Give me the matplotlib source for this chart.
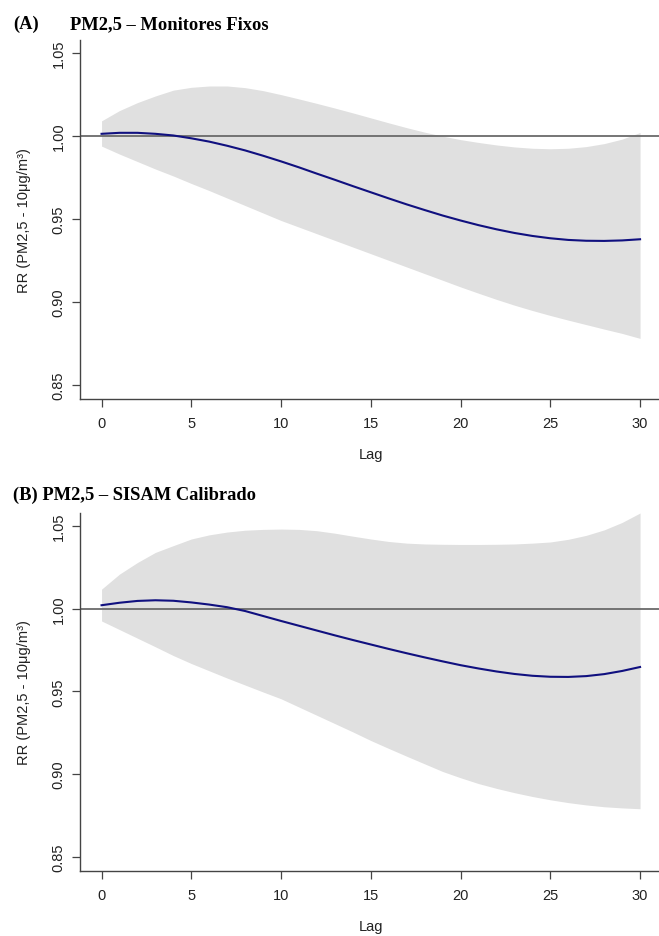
import matplotlib
matplotlib.use("Agg")
import matplotlib.pyplot as plt

lags = list(range(31))

# Panel A - PM2,5 monitores fixos
rr_a = [1.0012, 1.0018, 1.0018, 1.0012, 1.0002, 0.9985, 0.9965, 0.9940, 0.9912, 0.9880,
        0.9846, 0.9810, 0.9772, 0.9735, 0.9697, 0.9660, 0.9623, 0.9587, 0.9553, 0.9520,
        0.9490, 0.9462, 0.9437, 0.9415, 0.9397, 0.9383, 0.9373, 0.9368, 0.9367, 0.9370,
        0.9377]
hi_a = [1.009, 1.0152, 1.020, 1.024, 1.0275, 1.0292, 1.030, 1.030, 1.029, 1.0272,
        1.0248, 1.0222, 1.0195, 1.0167, 1.0138, 1.0108, 1.0078, 1.0049, 1.0022, 0.9998,
        0.9977, 0.996, 0.9945, 0.9933, 0.9925, 0.9922, 0.9925, 0.9935, 0.9953, 0.998,
        1.002]
lo_a = [0.9938, 0.989, 0.9845, 0.980, 0.9758, 0.9713, 0.967, 0.9625, 0.958, 0.9535,
        0.949, 0.945, 0.941, 0.937, 0.933, 0.929, 0.925, 0.921, 0.917, 0.913,
        0.909, 0.9052, 0.9015, 0.898, 0.8948, 0.8918, 0.889, 0.8863, 0.8836, 0.881,
        0.878]

# Panel B - PM2,5 SISAM calibrado
rr_b = [1.0020, 1.0035, 1.0046, 1.0050, 1.0047, 1.0037, 1.0024, 1.0008, 0.9985, 0.9955,
        0.9925, 0.9896, 0.9867, 0.9838, 0.9810, 0.9783, 0.9756, 0.9730, 0.9705, 0.9681,
        0.9658, 0.9638, 0.9620, 0.9605, 0.9594, 0.9588, 0.9587, 0.9592, 0.9604, 0.9623,
        0.9647]
hi_b = [1.0117, 1.0208, 1.0278, 1.0339, 1.038, 1.042, 1.0445, 1.0462, 1.0473, 1.0478,
        1.048, 1.0478, 1.0470, 1.0455, 1.0437, 1.042, 1.0405, 1.0395, 1.039, 1.0388,
        1.0387, 1.0387, 1.0388, 1.039, 1.0395, 1.0402, 1.0418, 1.0442, 1.0475, 1.0520,
        1.0577]
lo_b = [0.9925, 0.9873, 0.9821, 0.9769, 0.9716, 0.9668, 0.9624, 0.9580, 0.9538, 0.9496,
        0.9455, 0.9405, 0.9355, 0.9305, 0.9255, 0.9203, 0.9155, 0.9108, 0.9062, 0.9016,
        0.8978, 0.8943, 0.8914, 0.8888, 0.8865, 0.8845, 0.8828, 0.8814, 0.8803, 0.8796,
        0.8791]

xticks = [0, 5, 10, 15, 20, 25, 30]
yticks = [0.85, 0.90, 0.95, 1.00, 1.05]
ylab = "RR (PM2,5 - 10μg/m³)"

plt.rcParams['font.family'] = ['Liberation Sans', 'DejaVu Sans']

W, H = 659, 937
fig = plt.figure(figsize=(W / 100, H / 100), dpi=100)


def panel(top_px, bot_px, rr, hi, lo):
    ax = fig.add_axes([80 / W, 1 - bot_px / H, 581.6 / W, (bot_px - top_px) / H])
    ax.fill_between(lags, lo, hi, color='#e0e0e0', linewidth=0)
    ax.axhline(1.0, color='#6a6a6a', lw=1.3)
    ax.plot(lags, rr, color='#10107f', lw=1.5)
    ax.set_xlim(-1.2, 31.2)
    ax.set_ylim(0.8415, 1.0577)
    ax.set_xticks(xticks)
    ax.set_yticks(yticks)
    ax.set_yticklabels([f"{v:.2f}" for v in yticks], rotation=90, va='center')
    for s in ['top', 'right']:
        ax.spines[s].set_visible(False)
    for s in ['left', 'bottom']:
        ax.spines[s].set_color('#444444')
        ax.spines[s].set_linewidth(1.0)
    ax.tick_params(axis='both', direction='out', length=5.5, width=0.9,
                   color='#444444', labelcolor='#222222', labelsize=10.5)
    ax.tick_params(axis='x', pad=7)
    ax.tick_params(axis='y', pad=5)
    ax.set_xlabel("Lag", fontsize=10.5, color='#222222', labelpad=12)
    ax.set_ylabel(ylab, fontsize=10.5, color='#222222', labelpad=15)
    return ax


panel(41, 400, rr_a, hi_a, lo_a)
panel(514, 872, rr_b, hi_b, lo_b)

tfont = dict(family='Liberation Serif', weight='bold', fontsize=13.3, va='center')
fig.text(13 / W, 1 - 24.5 / H, "(A)", **tfont)
fig.text(70 / W, 1 - 24.5 / H, "PM2,5 – Monitores Fixos", **tfont)
fig.text(13 / W, 1 - 495 / H, "(B) PM2,5 – SISAM Calibrado", **tfont)

fig.savefig("out.png", dpi=100)
